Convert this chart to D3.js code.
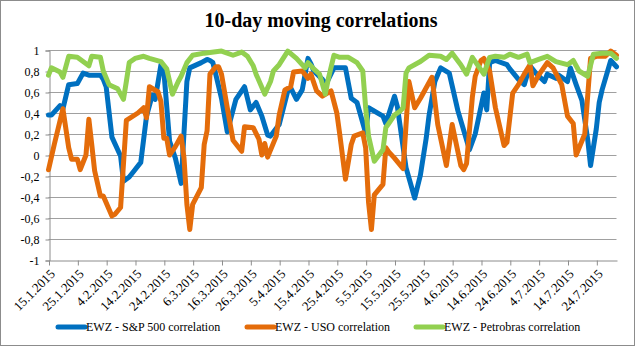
<!DOCTYPE html>
<html>
<head>
<meta charset="utf-8">
<script src="https://cdn.jsdelivr.net/npm/d3@7"></script>
<style>
  html, body { margin: 0; padding: 0; background: #fff; }
  svg { display: block; }
  text { font-family: "Liberation Serif", "Times New Roman", serif; fill: #000; }
</style>
</head>
<body>
<svg id="chart" width="640" height="348"></svg>
<script>
// 10-day moving correlations of EWZ, 2015
const title = "10-day moving correlations";

const seriesNames = [
  "EWZ - S&P 500 correlation",
  "EWZ - USO correlation",
  "EWZ - Petrobras correlation"
];
const seriesColors = ["#0070C0", "#E46C0A", "#92D050"];

const yTicks = [1, 0.8, 0.6, 0.4, 0.2, 0, -0.2, -0.4, -0.6, -0.8, -1];
const xTickLabels = ["15.1.2015", "25.1.2015", "4.2.2015", "14.2.2015", "24.2.2015",
  "6.3.2015", "16.3.2015", "26.3.2015", "5.4.2015", "15.4.2015", "25.4.2015",
  "5.5.2015", "15.5.2015", "25.5.2015", "4.6.2015", "14.6.2015", "24.6.2015",
  "4.7.2015", "14.7.2015", "24.7.2015"];
const xDomain = ["2015-01-15", "2015-07-31"];

// EWZ vs S&P 500
const spxDates = ["01-15","01-16","01-19","01-20","01-22","01-25","01-27","01-29","02-02","02-03",
  "02-04","02-06","02-08","02-09","02-10","02-12","02-14","02-16","02-18","02-20",
  "02-21","02-23","02-24","02-26","02-28","03-02","03-04","03-05","03-09","03-11",
  "03-12","03-13","03-14","03-16","03-18","03-21","03-24","03-26","03-28","03-30",
  "04-01","04-02","04-05","04-08","04-09","04-11","04-13","04-15","04-16","04-17",
  "04-20","04-21","04-24","04-26","04-28","04-30","05-02","05-05","05-06","05-11",
  "05-12","05-15","05-16","05-19","05-22","05-24","05-26","05-27","05-29","05-31",
  "06-03","06-06","06-10","06-12","06-15","06-16","06-17","06-19","06-23","06-24",
  "06-27","06-29","07-01","07-03","07-06","07-07","07-10","07-11","07-14","07-15",
  "07-17","07-19","07-21","07-22","07-24","07-25","07-26","07-29","07-31"];
const spxValues = [0.38,0.38,0.47,0.44,0.67,0.68,0.78,0.76,0.76,0.72,
  0.65,0.17,0.05,-0.01,-0.25,-0.21,-0.14,-0.07,0.37,0.57,
  0.53,0.86,0.80,0.13,-0.03,-0.27,0.70,0.83,0.88,0.91,
  0.90,0.88,0.77,0.54,0.22,0.53,0.65,0.43,0.50,0.37,
  0.19,0.18,0.29,0.61,0.64,0.53,0.62,0.92,0.87,0.80,
  0.72,0.66,0.83,0.83,0.83,0.54,0.50,0.21,0.45,0.37,
  0.30,0.56,0.46,-0.12,-0.41,-0.19,0.16,0.38,0.70,0.83,
  0.78,0.42,0.05,0.20,0.59,0.43,0.88,0.90,0.86,0.82,
  0.72,0.67,0.85,0.78,0.70,0.77,0.73,0.76,0.70,0.83,
  0.67,0.52,0.15,-0.10,0.25,0.50,0.62,0.90,0.84];

// EWZ vs USO
const usoDates = ["01-15","01-17","01-20","01-22","01-23","01-25","01-26","01-28","01-29","01-30",
  "01-31","02-02","02-03","02-06","02-07","02-09","02-11","02-15","02-17","02-18",
  "02-19","02-22","02-23","02-24","02-25","02-26","02-28","03-02","03-03","03-04",
  "03-05","03-06","03-09","03-10","03-11","03-12","03-14","03-15","03-16","03-18",
  "03-20","03-23","03-24","03-27","03-29","03-30","03-31","04-01","04-04","04-05",
  "04-07","04-09","04-10","04-13","04-15","04-16","04-18","04-20","04-23","04-25",
  "04-26","04-28","04-30","05-01","05-04","05-05","05-06","05-07","05-08","05-11",
  "05-12","05-13","05-15","05-18","05-20","05-22","05-24","05-28","05-30","06-02",
  "06-04","06-07","06-08","06-09","06-11","06-12","06-14","06-15","06-17","06-19",
  "06-22","06-23","06-25","06-27","06-29","07-01","07-02","07-04","07-07","07-09",
  "07-12","07-14","07-16","07-17","07-20","07-22","07-24","07-27","07-29","07-31"];
const usoValues = [-0.14,0.10,0.44,0.07,-0.04,-0.04,-0.14,0.00,0.34,0.10,
  -0.15,-0.39,-0.39,-0.58,-0.565,-0.50,0.33,0.40,0.45,0.355,
  0.65,0.60,0.51,0.16,0.16,0.00,0.08,0.18,-0.03,-0.47,
  -0.71,-0.47,-0.31,0.10,0.23,0.77,0.84,0.84,0.77,0.45,
  0.14,0.035,0.27,0.26,0.15,0.00,0.11,-0.02,0.18,0.38,
  0.62,0.65,0.79,0.80,0.73,0.77,0.61,0.56,0.61,0.40,
  0.20,-0.23,0.10,0.18,0.21,0.07,-0.45,-0.71,-0.38,-0.28,
  0.07,0.03,-0.03,-0.13,0.70,0.45,0.54,0.74,0.29,-0.10,
  0.29,-0.10,-0.14,-0.08,0.55,0.75,0.90,0.92,0.80,0.45,
  0.09,0.12,0.59,0.67,0.77,0.86,0.66,0.76,0.88,0.83,
  0.67,0.37,0.30,0.00,0.20,0.92,0.94,0.94,0.99,0.95];

// EWZ vs Petrobras
const pbrDates = ["01-15","01-16","01-19","01-20","01-22","01-25","01-27","01-29","01-30","02-02",
  "02-03","02-05","02-08","02-10","02-11","02-12","02-14","02-17","02-19","02-23",
  "02-25","02-27","03-01","03-02","03-04","03-06","03-10","03-16","03-20","03-23",
  "03-25","03-27","03-28","03-31","04-02","04-03","04-05","04-08","04-11","04-14",
  "04-15","04-17","04-19","04-21","04-22","04-24","04-26","04-29","05-02","05-04",
  "05-05","05-06","05-08","05-11","05-12","05-13","05-15","05-17","05-18","05-19",
  "05-20","05-24","05-27","05-31","06-02","06-04","06-07","06-09","06-11","06-15",
  "06-17","06-19","06-22","06-24","06-27","06-30","07-01","07-04","07-07","07-10",
  "07-14","07-16","07-18","07-21","07-23","07-26","07-29","07-31"];
const pbrValues = [0.76,0.83,0.79,0.74,0.94,0.93,0.89,0.85,0.94,0.93,
  0.80,0.67,0.63,0.53,0.70,0.88,0.92,0.94,0.92,0.89,
  0.82,0.58,0.70,0.75,0.88,0.95,0.97,0.99,0.95,0.98,
  0.94,0.85,0.77,0.58,0.70,0.80,0.86,0.99,0.92,0.83,
  0.88,0.82,0.77,0.58,0.72,0.95,0.93,0.93,0.88,0.80,
  0.45,0.18,-0.06,0.05,0.26,0.30,0.38,0.42,0.45,0.78,
  0.83,0.89,0.95,0.94,0.91,0.97,0.86,0.77,0.93,0.77,
  0.93,0.94,0.93,0.96,0.93,0.96,0.88,0.91,0.94,0.89,
  0.86,0.90,0.80,0.75,0.96,0.97,0.97,0.92];

const parse = d3.utcParse("%Y-%m-%d");
const toPoints = (dates, values) => dates.map((d, i) => ({ date: parse("2015-" + d), value: values[i] }));
const series = [
  toPoints(spxDates, spxValues),
  toPoints(usoDates, usoValues),
  toPoints(pbrDates, pbrValues)
];

const svg = d3.select("#chart");
const plot = { left: 48.5, right: 616.5, top: 50, bottom: 260 };

const x = d3.scaleUtc().domain(xDomain.map(parse)).range([plot.left, plot.right]);
const y = d3.scaleLinear().domain([-1, 1]).range([plot.bottom, plot.top]);

const fmt = v => (Math.abs(v) < 1e-9 ? "0" : String(+v.toFixed(1)).replace(".", ","));

// outer frame
svg.append("rect")
  .attr("x", 0.5).attr("y", 0.5).attr("width", 634).attr("height", 345)
  .attr("fill", "#fff").attr("stroke", "#8c8c8c").attr("stroke-width", 1);

// title
svg.append("text")
  .attr("x", 321).attr("y", 27)
  .attr("text-anchor", "middle")
  .style("font-size", "20px").style("font-weight", "bold")
  .text(title);

// horizontal gridlines
svg.append("g")
  .selectAll("line")
  .data(yTicks.filter(v => v !== -1))
  .join("line")
  .attr("x1", plot.left).attr("x2", plot.right)
  .attr("y1", d => Math.round(y(d)) + 0.5).attr("y2", d => Math.round(y(d)) + 0.5)
  .attr("stroke", "#a0a0a0").attr("stroke-width", 1);

// y axis
const yAxis = d3.axisLeft(y).tickValues(yTicks).tickFormat(fmt).tickSize(4).tickPadding(6);
const gy = svg.append("g")
  .attr("transform", `translate(${Math.round(plot.left) + 0.5},0.5)`)
  .call(yAxis);
gy.select(".domain").attr("stroke", "#8c8c8c");
gy.selectAll(".tick line").attr("stroke", "#8c8c8c");
gy.selectAll(".tick text")
  .style("font-family", "'Liberation Serif', serif").style("font-size", "12px").attr("fill", "#000");

// x axis with rotated date labels
const xTickDates = xTickLabels.map(s => {
  const [d, m, yr] = s.split(".").map(Number);
  return new Date(Date.UTC(yr, m - 1, d));
});
const labelByTime = new Map(xTickDates.map((d, i) => [d.getTime(), xTickLabels[i]]));
const xAxis = d3.axisBottom(x).tickValues(xTickDates)
  .tickFormat(d => labelByTime.get(d.getTime())).tickSize(5).tickSizeOuter(0);
const gx = svg.append("g")
  .attr("transform", `translate(0.5,${plot.bottom + 0.5})`)
  .call(xAxis);
gx.select(".domain").attr("stroke", "#8c8c8c");
gx.selectAll(".tick line").attr("stroke", "#8c8c8c");
gx.selectAll(".tick text")
  .style("font-family", "'Liberation Serif', serif").style("font-size", "13px").attr("fill", "#000")
  .attr("text-anchor", "end")
  .attr("y", 0).attr("dy", "0.35em")
  .attr("transform", "translate(3,11) rotate(-45)");

// correlation lines
const line = d3.line().x(d => x(d.date)).y(d => y(d.value));
svg.append("g")
  .selectAll("path")
  .data(series)
  .join("path")
  .attr("d", line)
  .attr("fill", "none")
  .attr("stroke", (d, i) => seriesColors[i])
  .attr("stroke-width", 5)
  .attr("stroke-linejoin", "round")
  .attr("stroke-linecap", "round");

// legend
const legendX = [58, 247, 416];
const legend = svg.append("g").attr("transform", "translate(0,327)");
const item = legend.selectAll("g").data(seriesNames).join("g")
  .attr("transform", (d, i) => `translate(${legendX[i]},0)`);
item.append("line")
  .attr("x1", 0).attr("x2", 27).attr("y1", 0).attr("y2", 0)
  .attr("stroke", (d, i) => seriesColors[i]).attr("stroke-width", 5)
  .attr("stroke-linecap", "round");
item.append("text")
  .attr("x", 28).attr("y", 0).attr("dy", "0.35em")
  .style("font-size", "12px")
  .text(d => d);
</script>
</body>
</html>
